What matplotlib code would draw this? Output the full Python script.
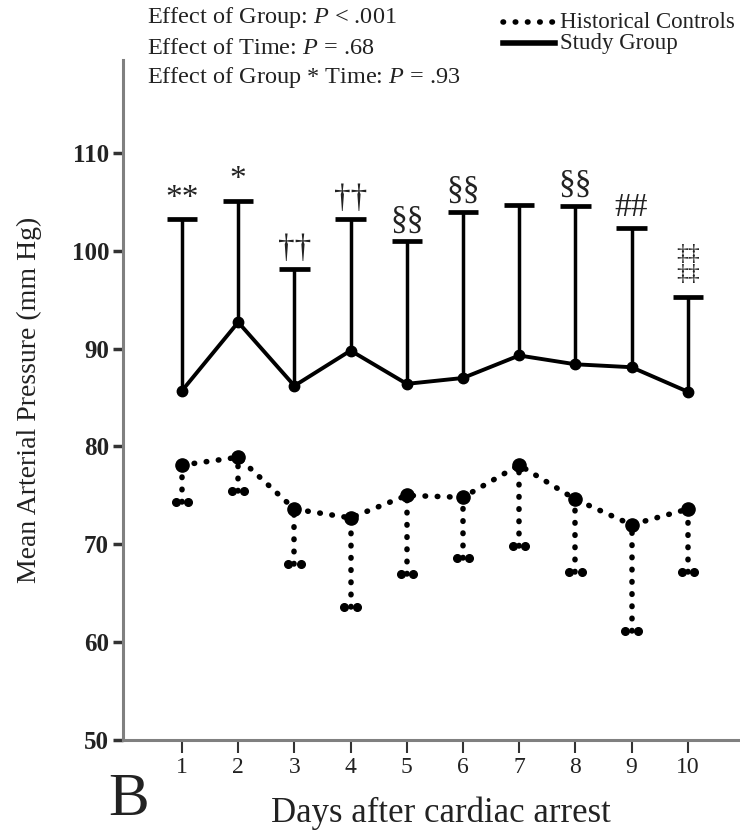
import matplotlib

matplotlib.use("Agg")
import matplotlib.pyplot as plt
from matplotlib.lines import Line2D
import numpy as np

plt.rcParams["font.family"] = ["Liberation Serif", "DejaVu Serif"]
plt.rcParams["mathtext.fontset"] = "custom"
plt.rcParams["mathtext.it"] = "Liberation Serif:italic"
plt.rcParams["mathtext.rm"] = "Liberation Serif"

days = [1, 2, 3, 4, 5, 6, 7, 8, 9, 10]

# Study group: mean and upper end of error bar
study_mean = [85.7, 92.7, 86.2, 89.8, 86.4, 87.0, 89.3, 88.4, 88.1, 85.6]
study_upper = [103.2, 105.1, 98.1, 103.2, 101.0, 104.0, 104.7, 104.6, 102.3, 95.3]
study_marks = ["**", "*", "††", "††", "§§", "§§", "", "§§", "##", "‡‡\n‡‡"]

# Historical controls: mean and lower end of error bar
ctrl_mean = [78.1, 78.9, 73.6, 72.7, 75.0, 74.8, 78.1, 74.6, 72.0, 73.6]
ctrl_lower = [74.3, 75.4, 68.0, 63.6, 67.0, 68.6, 69.8, 67.2, 61.1, 67.2]

y_ticks = [50, 60, 70, 80, 90, 100, 110]

stats_lines = [
    r"Effect of Group: $\mathit{P}$ < .001",
    r"Effect of Time: $\mathit{P}$ = .68",
    r"Effect of Group * Time: $\mathit{P}$ = .93",
]

W, H = 740, 833
fig = plt.figure(figsize=(W / 100, H / 100), dpi=100)
ax = fig.add_axes([123 / W, 1 - 740 / H, 1 - 123 / W, (740 - 60) / H])

x = np.array(days)
sm = np.array(study_mean)
su = np.array(study_upper)
cm = np.array(ctrl_mean)
cl = np.array(ctrl_lower)

dots = (0, (0.1, 2.1))

# study group
ax.vlines(x, sm, su, color="black", lw=2.5, zorder=3)
ax.hlines(su, x - 0.27, x + 0.27, color="black", lw=3.4, zorder=3)
ax.plot(x, sm, "-o", color="black", lw=2.8, ms=7.5, zorder=4)
for xi, top, txt in zip(x, su, study_marks):
    if not txt:
        continue
    if "\n" in txt:
        ax.text(xi, top + 1.2, txt, ha="center", va="bottom", fontsize=17,
                linespacing=0.95, color="#222222")
    else:
        ax.text(xi, top + 1.3, txt, ha="center", va="baseline", fontsize=24,
                color="#222222")

# historical controls
bars = ax.vlines(x, cl, cm, color="black", lw=4.0, linestyles=dots, zorder=3)
bars.set_capstyle("round")
ax.plot(np.r_[x - 0.11, x + 0.11], np.r_[cl, cl], "o", color="black", ms=5.5,
        zorder=3)
ax.plot(x, cm, linestyle=dots, dash_capstyle="round", marker="o",
        color="black", lw=4.0, ms=9.5, zorder=4)

ax.set_xlim(-0.05, 10.93)
ax.set_ylim(50, 119.5)
ax.set_xticks(days)
ax.set_yticks(y_ticks)
ax.tick_params(axis="y", length=7, width=2.5, direction="out", labelsize=18,
               pad=3, colors="#333333", labelcolor="#222222")
ax.tick_params(axis="x", length=9, width=1.5, direction="out", labelsize=17,
               pad=3, colors="#333333", labelcolor="#222222")
for lbl in ax.get_yticklabels():
    lbl.set_fontweight("bold")
for side in ["top", "right"]:
    ax.spines[side].set_visible(False)
for side in ["left", "bottom"]:
    ax.spines[side].set_color("#808080")
    ax.spines[side].set_linewidth(2.2)

ax.set_ylabel("Mean Arterial Pressure (mm Hg)", fontsize=20, color="#222222")
ax.yaxis.set_label_coords((29 - 123) / (W - 123), 0.5)
ax.yaxis.label.set_va("center")
ax.set_xlabel("Days after cardiac arrest", fontsize=25, color="#222222")
ax.xaxis.set_label_coords((441 - 123) / (W - 123), -(813 - 740) / 680)
ax.xaxis.label.set_va("center")

fig.text(108 / W, 1 - 815 / H, "B", fontsize=44, color="#222222",
         va="baseline")

for i, line in enumerate(stats_lines):
    fig.text(147 / W, 1 - (18 + 30 * i) / H, line, fontsize=17.5,
             va="center", color="#222222")

# legend drawn in figure coordinates
leg_rows = [("Historical Controls", dots, 4.0, 22),
            ("Study Group", "-", 4.0, 43)]
for label, ls, lw, yp in leg_rows:
    ln = Line2D([503 / W, 555 / W], [1 - yp / H, 1 - yp / H],
                transform=fig.transFigure, color="black", lw=lw,
                linestyle=ls, dash_capstyle="round")
    fig.add_artist(ln)
    fig.text(560 / W, 1 - yp / H, label, fontsize=16.5, va="center",
             color="#222222")

fig.savefig("out.png", dpi=100)
